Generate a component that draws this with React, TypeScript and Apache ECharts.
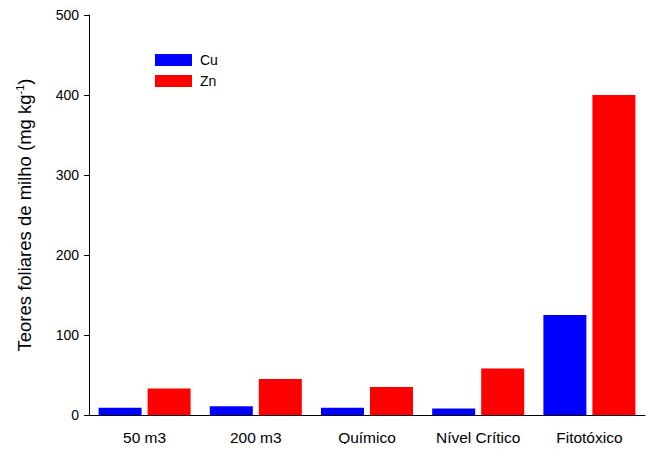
import React, { useEffect, useRef } from "react";
import * as echarts from "echarts";

const categories = ["50 m3", "200 m3", "Químico", "Nível Crítico", "Fitotóxico"];
const cuValues = [9, 11, 9, 8, 125];
const znValues = [33, 45, 35, 58, 400];
const yTicks = { min: 0, max: 500, interval: 100 };

const FONT = "Liberation Sans, Arial, sans-serif";

export default function App() {
  const ref = useRef<HTMLDivElement>(null);
  useEffect(() => {
    if (!ref.current) return;
    const chart = echarts.init(ref.current, undefined, { renderer: "svg" });
    chart.setOption({
      animation: false,
      backgroundColor: "#ffffff",
      textStyle: { fontFamily: FONT, color: "#000" },
      grid: { left: 89, right: 11, top: 15, bottom: 37, containLabel: false },
      legend: {
        orient: "vertical",
        left: 155,
        top: 53,
        itemWidth: 37,
        itemHeight: 12,
        itemGap: 7,
        padding: 0,
        icon: "rect",
        textStyle: { fontFamily: FONT, fontSize: 14, color: "#000", padding: [0, 0, 0, 3] },
        data: ["Cu", "Zn"],
      },
      xAxis: {
        type: "category",
        data: categories,
        axisLine: { lineStyle: { color: "#000", width: 1 } },
        axisTick: { alignWithLabel: true, length: 5, lineStyle: { color: "#000" } },
        axisLabel: { color: "#000", fontSize: 15.5, fontFamily: FONT, margin: 14 },
        splitLine: { show: false },
      },
      yAxis: {
        type: "value",
        min: yTicks.min,
        max: yTicks.max,
        interval: yTicks.interval,
        name: "Teores foliares de milho (mg kg{sup|-1})",
        nameLocation: "middle",
        nameGap: 55,
        nameRotate: 90,
        nameTextStyle: {
          fontFamily: FONT,
          fontSize: 18.5,
          color: "#000",
          rich: {
            sup: { fontSize: 11, fontFamily: FONT, color: "#000", verticalAlign: "top", padding: [0, 0, 9, 0] },
          },
        },
        axisLine: { show: true, lineStyle: { color: "#000", width: 1 } },
        axisTick: { show: true, length: 5, lineStyle: { color: "#000" } },
        axisLabel: { color: "#000", fontSize: 14, fontFamily: FONT, margin: 10 },
        splitLine: { show: false },
      },
      series: [
        {
          name: "Cu",
          type: "bar",
          data: cuValues,
          barWidth: 43,
          barGap: "14%",
          itemStyle: { color: "#0000ff" },
        },
        {
          name: "Zn",
          type: "bar",
          data: znValues,
          barWidth: 43,
          barGap: "14%",
          itemStyle: { color: "#ff0000" },
        },
      ],
    });
    return () => chart.dispose();
  }, []);
  return <div ref={ref} style={{ width: 656, height: 452, margin: -8 }} />;
}
